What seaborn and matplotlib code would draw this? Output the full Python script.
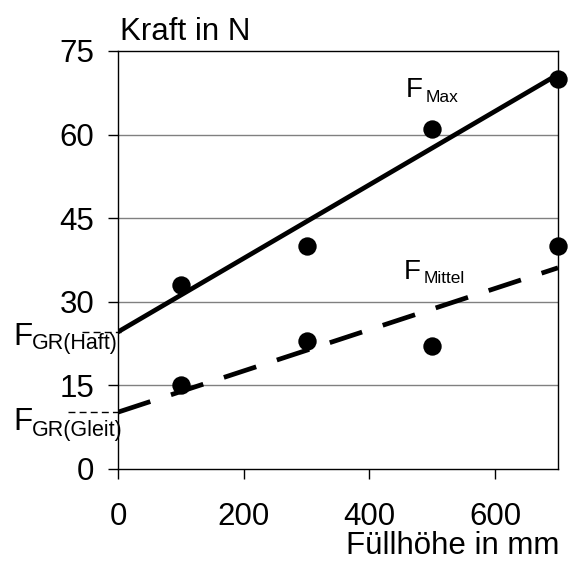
import numpy as np
import pandas as pd
import matplotlib
matplotlib.use("Agg")
import matplotlib.pyplot as plt
import seaborn as sns

# Data
fuellhoehe = [100, 300, 500, 700]
f_max = [33, 40, 61, 70]
f_mittel = [15, 23, 22, 40]
x_ticks = [0, 200, 400, 600]
y_ticks = [0, 15, 30, 45, 60, 75]

df = pd.DataFrame({"x": fuellhoehe, "fmax": f_max, "fmittel": f_mittel})

sns.set_theme(style="white")
plt.rcParams['font.family'] = ['Liberation Sans', 'DejaVu Sans']
plt.rcParams['text.color'] = 'black'
plt.rcParams['xtick.color'] = 'black'
plt.rcParams['ytick.color'] = 'black'
plt.rcParams['axes.labelcolor'] = 'black'

W, H = 572, 561
fig = plt.figure(figsize=(W / 100, H / 100), dpi=100)
ax = fig.add_axes([118 / W, 1 - 469 / H, 440 / W, 418 / H])
ax.set_xlim(0, 700)
ax.set_ylim(0, 75)

# gridlines
for yv in y_ticks[1:-1]:
    ax.axhline(yv, color='#808080', lw=1.0, zorder=1)

sns.regplot(data=df, x="x", y="fmax", ax=ax, ci=None, truncate=False,
            scatter_kws=dict(s=175, color='black', alpha=1, clip_on=False, zorder=4, linewidths=0),
            line_kws=dict(color='black', lw=3.4, zorder=3))
sns.regplot(data=df, x="x", y="fmittel", ax=ax, ci=None, truncate=False,
            scatter_kws=dict(s=175, color='black', alpha=1, clip_on=False, zorder=4, linewidths=0),
            line_kws=dict(color='black', lw=3.4, dashes=(7.2, 4.6), zorder=3))

# intercept markers (dashed stubs left of the axis)
b_max = np.polyfit(fuellhoehe, f_max, 1)[1]
b_mit = np.polyfit(fuellhoehe, f_mittel, 1)[1]
ax.plot([-57, 5], [b_max, b_max], color='black', lw=1.0, ls=(0, (5, 3)), clip_on=False, zorder=2)
ax.plot([-80, 5], [b_mit, b_mit], color='black', lw=1.0, ls=(0, (5, 3)), clip_on=False, zorder=2)

ax.set_xlim(0, 700)
ax.set_ylim(0, 75)

for side in ['left', 'bottom', 'top', 'right']:
    ax.spines[side].set_visible(True)
    ax.spines[side].set_color('black')
    ax.spines[side].set_linewidth(1.0)

ax.set_xticks(x_ticks)
ax.set_yticks(y_ticks)
ax.tick_params(axis='both', which='both', direction='out', length=7.2, width=1.0,
               color='black', labelsize=22.5, labelcolor='black')
ax.tick_params(axis='x', pad=16.5, bottom=True)
ax.tick_params(axis='y', pad=10, left=True)
ax.set_xlabel("")
ax.set_ylabel("")


def px(x, y):
    return x / W, 1 - y / H


fig.text(*px(120, 40), "Kraft in N", fontsize=22.5, ha='left', va='baseline')
fig.text(*px(559, 554), "Füllhöhe in mm", fontsize=22.5, ha='right', va='baseline')

# Labels with subscripts
fig.text(*px(406, 97), "F", fontsize=20, ha='left', va='baseline')
fig.text(*px(426, 102), "Max", fontsize=12.5, ha='left', va='baseline')
fig.text(*px(404, 279), "F", fontsize=20, ha='left', va='baseline')
fig.text(*px(424, 283), "Mittel", fontsize=12.5, ha='left', va='baseline')
fig.text(*px(13, 345), "F", fontsize=22.5, ha='left', va='baseline')
fig.text(*px(32, 349), "GR(Haft)", fontsize=15.5, ha='left', va='baseline')
fig.text(*px(13, 430), "F", fontsize=22.5, ha='left', va='baseline')
fig.text(*px(32, 436), "GR(Gleit)", fontsize=15.5, ha='left', va='baseline')

fig.savefig("out.png", dpi=100)
